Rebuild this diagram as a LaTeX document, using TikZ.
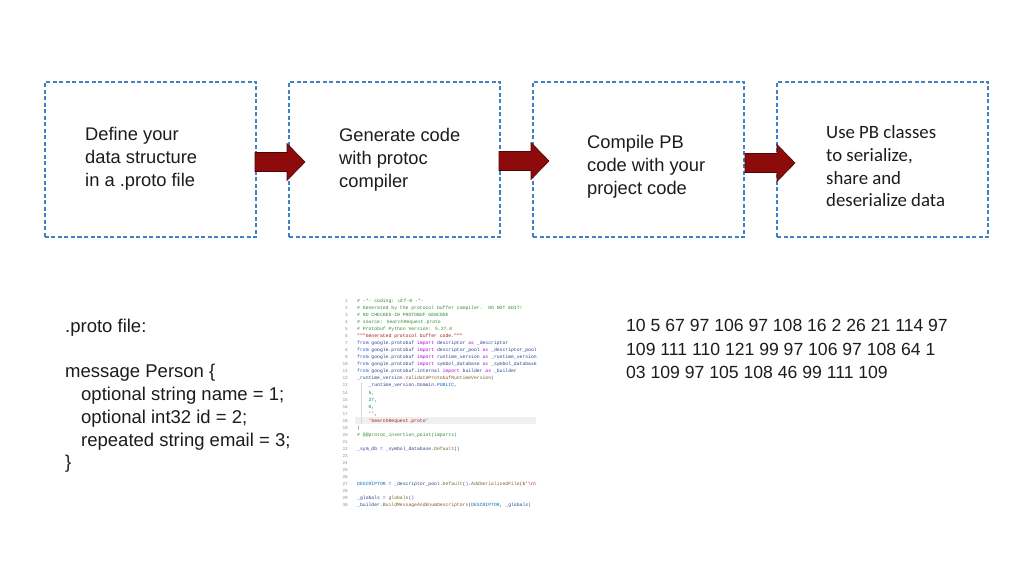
\documentclass[tikz,border=0pt]{standalone}
\usepackage{fontspec}
\setmainfont{Liberation Sans}
\newfontfamily\calfont{Carlito}
\newfontfamily\codefont[Ligatures=TeXOff]{Liberation Mono}
\definecolor{dashblue}{HTML}{4182C2}
\definecolor{arrowred}{HTML}{8E0B0B}
\definecolor{arrowedge}{HTML}{4E0505}
\definecolor{txtcol}{HTML}{1C1C1C}
\definecolor{ccom}{HTML}{2E8B2E}
\definecolor{cstr}{HTML}{A31515}
\definecolor{ckw}{HTML}{AF00DB}
\definecolor{cfrom}{HTML}{2F4FD0}
\definecolor{cvar}{HTML}{2B3F8F}
\definecolor{cfn}{HTML}{795E26}
\definecolor{cconst}{HTML}{0070C1}
\definecolor{cnum}{HTML}{098658}
\definecolor{clnum}{HTML}{8A8F98}
\newcommand\cm[1]{\textcolor{ccom}{#1}}
\newcommand\cs[1]{\textcolor{cstr}{#1}}
\newcommand\kw[1]{\textcolor{ckw}{#1}}
\newcommand\kf[1]{\textcolor{cfrom}{#1}}
\newcommand\vr[1]{\textcolor{cvar}{#1}}
\newcommand\fnc[1]{\textcolor{cfn}{#1}}
\newcommand\cst[1]{\textcolor{cconst}{#1}}
\newcommand\nm[1]{\textcolor{cnum}{#1}}
\newcommand\ind{\hspace*{11.4bp}}
\newcommand\codeline[2]{%
  \node[lnum] (ln#1) at (348,{295.6+#1*7.03}) {#1};
  \node[codetxt] (cl#1) at (357,{295.6+#1*7.03}) {#2};}
\begin{document}
\begin{tikzpicture}[x=1bp,y=-1bp,
  stepbox/.style={draw=dashblue, line width=1.1bp, dash pattern=on 4bp off 2.5bp,
    minimum width=211bp, minimum height=155bp, inner sep=0},
  txt/.style={font=\fontsize{18.3bp}{23bp}\selectfont, align=left, anchor=north west,
    inner sep=0, text=txtcol},
  arrowstyle/.style={fill=arrowred, draw=arrowedge, line width=0.6bp, line join=miter},
  barrow/.pic={\path[arrowstyle] (0,-9.5) -- (32,-9.5) -- (32,-18.5) -- (50,0)
     -- (32,18.5) -- (32,9.5) -- (0,9.5) -- cycle;},
  lnum/.style={anchor=base east, inner sep=0, text=clnum,
     font=\codefont\fontsize{4.4bp}{5bp}\selectfont},
  codetxt/.style={anchor=base west, inner sep=0, text=cvar,
     font=\codefont\fontsize{4.75bp}{5bp}\selectfont}]
\useasboundingbox[fill=white] (0,0) rectangle (1024,576);

% process boxes
\node[stepbox] (b1) at (150.5,159.5) {};
\node[stepbox] (b2) at (394.5,159.5) {};
\node[stepbox] (b3) at (638.5,159.5) {};
\node[stepbox] (b4) at (882.5,159.5) {};

% box texts
\node[txt] (t1) at (85,{140-13}) {\rule{0pt}{13bp}Define your\\data structure\\in a .proto file};
\node[txt] (t2) at (339,{141.5-13}) {\rule{0pt}{13bp}Generate code\\with protoc\\compiler};
\node[txt] (t3) at (587,{148.5-13}) {\rule{0pt}{13bp}Compile PB\\code with your\\project code};
\node[txt, font=\calfont\fontsize{18.8bp}{22.8bp}\selectfont] (t4) at (826,{138.3-13})
  {\rule{0pt}{13bp}Use PB classes\\to serialize,\\share and\\deserialize data};

% block arrows
\pic (a1) at (255,162) {barrow};
\pic (a2) at (499,161) {barrow};
\pic (a3) at (745,163) {barrow};

% proto file text
\node[txt, font=\fontsize{18.5bp}{22.8bp}\selectfont] (proto) at (65,{331.5-13})
  {\rule{0pt}{13bp}.proto file:\\\mbox{}\\message Person \{\\
   \hspace*{16bp}optional string name = 1;\\
   \hspace*{16bp}optional int32 id = 2;\\
   \hspace*{16bp}repeated string email = 3;\\\}};

% serialized bytes
\node[txt, font=\fontsize{17.6bp}{23.3bp}\selectfont] (bytes) at (626,{331.7-13})
  {\rule{0pt}{13bp}10 5 67 97 106 97 108 16 2 26 21 114 97\\
   109 111 110 121 99 97 106 97 108 64 1\\
   03 109 97 105 108 46 99 111 109};

% generated code screenshot
\begin{scope}
\clip (336,296) rectangle (536,510);
\fill[black!6] (355,{295.6+18*7.03-5}) rectangle (536,{295.6+18*7.03+2});
\draw[black!15, line width=0.4bp] (361,{295.6+13*7.03-5}) -- (361,{295.6+18*7.03+2});
\codeline{1}{\cm{\# -*- coding: utf-8 -*-}}
\codeline{2}{\cm{\# Generated by the protocol buffer compiler.\ \ DO NOT EDIT!}}
\codeline{3}{\cm{\# NO CHECKED-IN PROTOBUF GENCODE}}
\codeline{4}{\cm{\# source: SearchRequest.proto}}
\codeline{5}{\cm{\# Protobuf Python Version: 5.27.0}}
\codeline{6}{\cs{"""Generated protocol buffer code."""}}
\codeline{7}{\kf{from} \vr{google.protobuf} \kw{import} \vr{descriptor} \kw{as} \vr{\_descriptor}}
\codeline{8}{\kf{from} \vr{google.protobuf} \kw{import} \vr{descriptor\_pool} \kw{as} \vr{\_descriptor\_pool}}
\codeline{9}{\kf{from} \vr{google.protobuf} \kw{import} \vr{runtime\_version} \kw{as} \vr{\_runtime\_version}}
\codeline{10}{\kf{from} \vr{google.protobuf} \kw{import} \vr{symbol\_database} \kw{as} \vr{\_symbol\_database}}
\codeline{11}{\kf{from} \vr{google.protobuf.internal} \kw{import} \vr{builder} \kw{as} \vr{\_builder}}
\codeline{12}{\vr{\_runtime\_version}.\fnc{ValidateProtobufRuntimeVersion}(}
\codeline{13}{\ind\vr{\_runtime\_version}.\vr{Domain}.\cst{PUBLIC},}
\codeline{14}{\ind\nm{5},}
\codeline{15}{\ind\nm{27},}
\codeline{16}{\ind\nm{0},}
\codeline{17}{\ind\cs{''},}
\codeline{18}{\ind\cs{'SearchRequest.proto'}}
\codeline{19}{)}
\codeline{20}{\cm{\# @@protoc\_insertion\_point(imports)}}
\codeline{21}{}
\codeline{22}{\vr{\_sym\_db} = \vr{\_symbol\_database}.\fnc{Default}()}
\codeline{23}{}
\codeline{24}{}
\codeline{25}{}
\codeline{26}{}
\codeline{27}{\cst{DESCRIPTOR} = \vr{\_descriptor\_pool}.\fnc{Default}().\fnc{AddSerializedFile}(\cs{b'\textbackslash n\textbackslash x13SearchRequest.proto'})}
\codeline{28}{}
\codeline{29}{\vr{\_globals} = \fnc{globals}()}
\codeline{30}{\vr{\_builder}.\fnc{BuildMessageAndEnumDescriptors}(\cst{DESCRIPTOR}, \vr{\_globals})}
\end{scope}
\end{tikzpicture}
\end{document}
